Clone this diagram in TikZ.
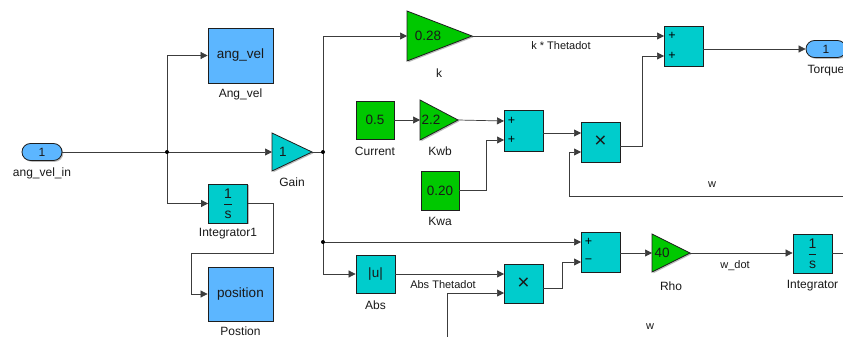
\documentclass[tikz,border=0pt]{standalone}
\usepackage{fontspec}
\setmainfont{Liberation Sans}
\usetikzlibrary{arrows.meta,shadows,shapes.misc}
\definecolor{simcyan}{RGB}{0,204,204}
\definecolor{simgreen}{RGB}{0,200,0}
\definecolor{simblue}{RGB}{92,182,255}
\definecolor{wirec}{RGB}{60,60,60}
\definecolor{edgec}{RGB}{30,30,30}
\newcommand\blkfont{\fontsize{13.5}{15}\selectfont}
\newcommand\lblfont{\fontsize{12}{14}\selectfont}
\newcommand\wirefont{\fontsize{11}{13}\selectfont}
\newcommand\sgnfont{\fontsize{12.5}{14}\selectfont}
\newcommand\multfont{\fontsize{21}{23}\selectfont}
\newcommand\oneovers{$\displaystyle\frac{\hbox{1}}{\hbox{s}}$}
\begin{document}
\begin{tikzpicture}[x=1pt,y=-1pt,
  shad/.style={drop shadow={shadow xshift=1.3pt,shadow yshift=-1.3pt,fill=black!45,opacity=0.6}},
  blk/.style={draw=edgec, line width=0.8pt, inner sep=0pt, shad, font=\blkfont, text=black!90},
  cyanblk/.style={blk, fill=simcyan},
  blueblk/.style={blk, fill=simblue},
  greenblk/.style={blk, fill=simgreen},
  port/.style={blk, fill=simblue, rounded rectangle, minimum width=40pt, minimum height=17pt, font=\lblfont},
  tri/.style={draw=edgec, line width=0.8pt, line join=miter, shad},
  lbl/.style={font=\lblfont, text=black!90, inner sep=0pt},
  wlbl/.style={font=\wirefont, text=black!90, inner sep=0pt},
  val/.style={font=\blkfont, text=black!90, inner sep=0pt},
  sgn/.style={font=\sgnfont, text=black, inner sep=0pt},
  mult/.style={font=\multfont, text=black!90, inner sep=0pt},
  wire/.style={draw=wirec, line width=0.7pt},
  arr/.style={wire, -{Triangle[length=7pt,width=7pt]}},
  dot/.style={fill=black, circle, inner sep=0pt, minimum size=4pt}
]
\useasboundingbox (0,0) rectangle (843,337);
\fill[white] (0,0) rectangle (843,337);
\clip (0,0) rectangle (843,337);

% ---------------- blocks ----------------
\node[port] (angin) at (42,152) {1};
\node[lbl] (anginl) at (42,173) {ang\_vel\_in};

\node[blueblk, minimum width=65pt, minimum height=55pt] (angvel) at (240.5,55.5) {ang\_vel};
\node[lbl] (angvell) at (240.5,94) {Ang\_vel};

\node[cyanblk, minimum width=39pt, minimum height=39pt, font=\fontsize{14}{16}\selectfont] (int1) at (228,203.5) {\oneovers};
\node[lbl] (int1l) at (228,234) {Integrator1};

\node[blueblk, minimum width=65pt, minimum height=54pt] (pos) at (240.5,294) {position};
\node[lbl] (posl) at (240.5,331) {Postion};

% Gain triangle
\path[tri, fill=simcyan] (272,133) -- (312,152) -- (272,171) -- cycle;
\coordinate (gainin) at (272,152);
\coordinate (gainout) at (312,152);
\node[val] (gainv) at (283,152) {1};
\node[lbl] (gainl) at (292,182) {Gain};

% k triangle
\path[tri, fill=simgreen] (407,11) -- (472,36) -- (407,61) -- cycle;
\coordinate (kin) at (407,36);
\coordinate (kout) at (472,36);
\node[val] (kv) at (428,36) {0.28};
\node[lbl] (kl) at (439,73) {k};

% Current constant
\node[greenblk, minimum width=38pt, minimum height=38pt] (cur) at (375,120) {0.5};
\node[lbl] (curl) at (375,151) {Current};

% Kwb triangle
\path[tri, fill=simgreen] (420,100) -- (458,120) -- (420,140) -- cycle;
\coordinate (kwbin) at (420,120);
\coordinate (kwbout) at (458,120);
\node[val] (kwbv) at (431,120) {2.2};
\node[lbl] (kwbl) at (440,151) {Kwb};

% Kwa constant
\node[greenblk, minimum width=38pt, minimum height=39pt] (kwa) at (440,190.5) {0.20};
\node[lbl] (kwal) at (440,221) {Kwa};

% Sum2
\node[cyanblk, minimum width=39pt, minimum height=41pt] (sum2) at (523.5,130.5) {};
\coordinate (s2in1) at (504,121);
\coordinate (s2in2) at (504,140);
\node[sgn] (s2p1) at (511.5,121) {+};
\node[sgn] (s2p2) at (511.5,140) {+};

% Product1
\node[cyanblk, minimum width=39pt, minimum height=40pt] (prod1) at (600.5,142) {};
\node[mult] (prod1x) at (600.5,142) {×};
\coordinate (p1in1) at (581,133);
\coordinate (p1in2) at (581,152);

% Sum1
\node[cyanblk, minimum width=39pt, minimum height=40pt] (sum1) at (683.5,46) {};
\coordinate (s1in1) at (664,36);
\coordinate (s1in2) at (664,56);
\node[sgn] (s1p1) at (672,36) {+};
\node[sgn] (s1p2) at (672,56) {+};

% Torque outport
\node[port] (torque) at (826,49) {1};
\node[lbl] (torquel) at (826,71) {Torque};

% Abs
\node[cyanblk, minimum width=39pt, minimum height=38pt] (abs) at (375.5,274) {|u|};
\node[lbl] (absl) at (375.5,305) {Abs};

% Product2
\node[cyanblk, minimum width=39pt, minimum height=39pt] (prod2) at (523.5,283.5) {};
\node[mult] (prod2x) at (523.5,283.5) {×};
\coordinate (p2in1) at (504,274);
\coordinate (p2in2) at (504,293);

% Sum3
\node[cyanblk, minimum width=39pt, minimum height=40pt] (sum3) at (600.5,252) {};
\coordinate (s3in1) at (581,242);
\coordinate (s3in2) at (581,262);
\node[sgn] (s3p1) at (588.5,242) {+};
\node[sgn] (s3p2) at (588.5,261.5) {−};

% Rho triangle
\path[tri, fill=simgreen] (652,234) -- (690,253) -- (652,272) -- cycle;
\coordinate (rhoin) at (652,253);
\coordinate (rhoout) at (690,253);
\node[val] (rhov) at (662,253) {40};
\node[lbl] (rhol) at (671,286) {Rho};

% Integrator
\node[cyanblk, minimum width=39pt, minimum height=39pt, font=\fontsize{14}{16}\selectfont] (int) at (812.5,253.5) {\oneovers};
\node[lbl] (intl) at (812.5,286) {Integrator};

% ---------------- junctions ----------------
\coordinate (j1) at (167,152);
\coordinate (j2) at (323,152);
\coordinate (j3) at (323,242);
\coordinate (wright) at (845,196);
\coordinate (wbottom) at (447,340);
\coordinate (intend) at (845,253.5);

% ---------------- wires ----------------
\draw[arr] (angin.east) -- (gainin);
\draw[arr] (j1) |- (angvel.west);
\draw[arr] (j1) |- (int1.west);
\draw[arr] (int1.east) -- ++(25,0) -- ++(0,50) -| ([xshift=-16pt]pos.west) -- (pos.west);

\draw[wire] (gainout) -- (j2);
\draw[arr] (j2) |- (kin);
\draw[wire] (j2) -- (j3);
\draw[arr] (j3) -- (s3in1);
\draw[arr] (j3) |- (abs.west);

\draw[arr] (kout) -- (s1in1);
\node[wlbl] (kthl) at (561,46) {k * Thetadot};

\draw[arr] (cur.east) -- (kwbin);
\draw[arr] (kwbout) -- (s2in1);
\draw[arr] (kwa.east) -- ++(27,0) |- (s2in2);
\draw[arr] (sum2.east |- p1in1) -- (p1in1);
\draw[arr] (prod1.east |- 0,146) -- (642,146) |- (s1in2);
\draw[arr] (wright) -- (569,196) |- (p1in2);
\node[wlbl] (wl1) at (712,185) {w};

\draw[arr] (sum1.east |- torque) -- (torque.west);

\draw[arr] (abs.east) -- (p2in1);
\node[wlbl] (absthl) at (443,285) {Abs Thetadot};
\draw[arr] (wbottom) |- (p2in2);
\draw[arr] (prod2.east |- 0,288) -- (562,288) |- (s3in2);

\draw[arr] (sum3.east |- rhoin) -- (rhoin);
\draw[arr] (rhoout) -- (int.west |- rhoout);
\node[wlbl] (wdotl) at (735,266) {w\_dot};
\draw[wire] (int.east) -- (intend);
\node[wlbl] (wl2) at (650,327) {w};

\node[dot] (d1) at (j1) {};
\node[dot] (d2) at (j2) {};
\node[dot] (d3) at (j3) {};
\end{tikzpicture}
\end{document}
